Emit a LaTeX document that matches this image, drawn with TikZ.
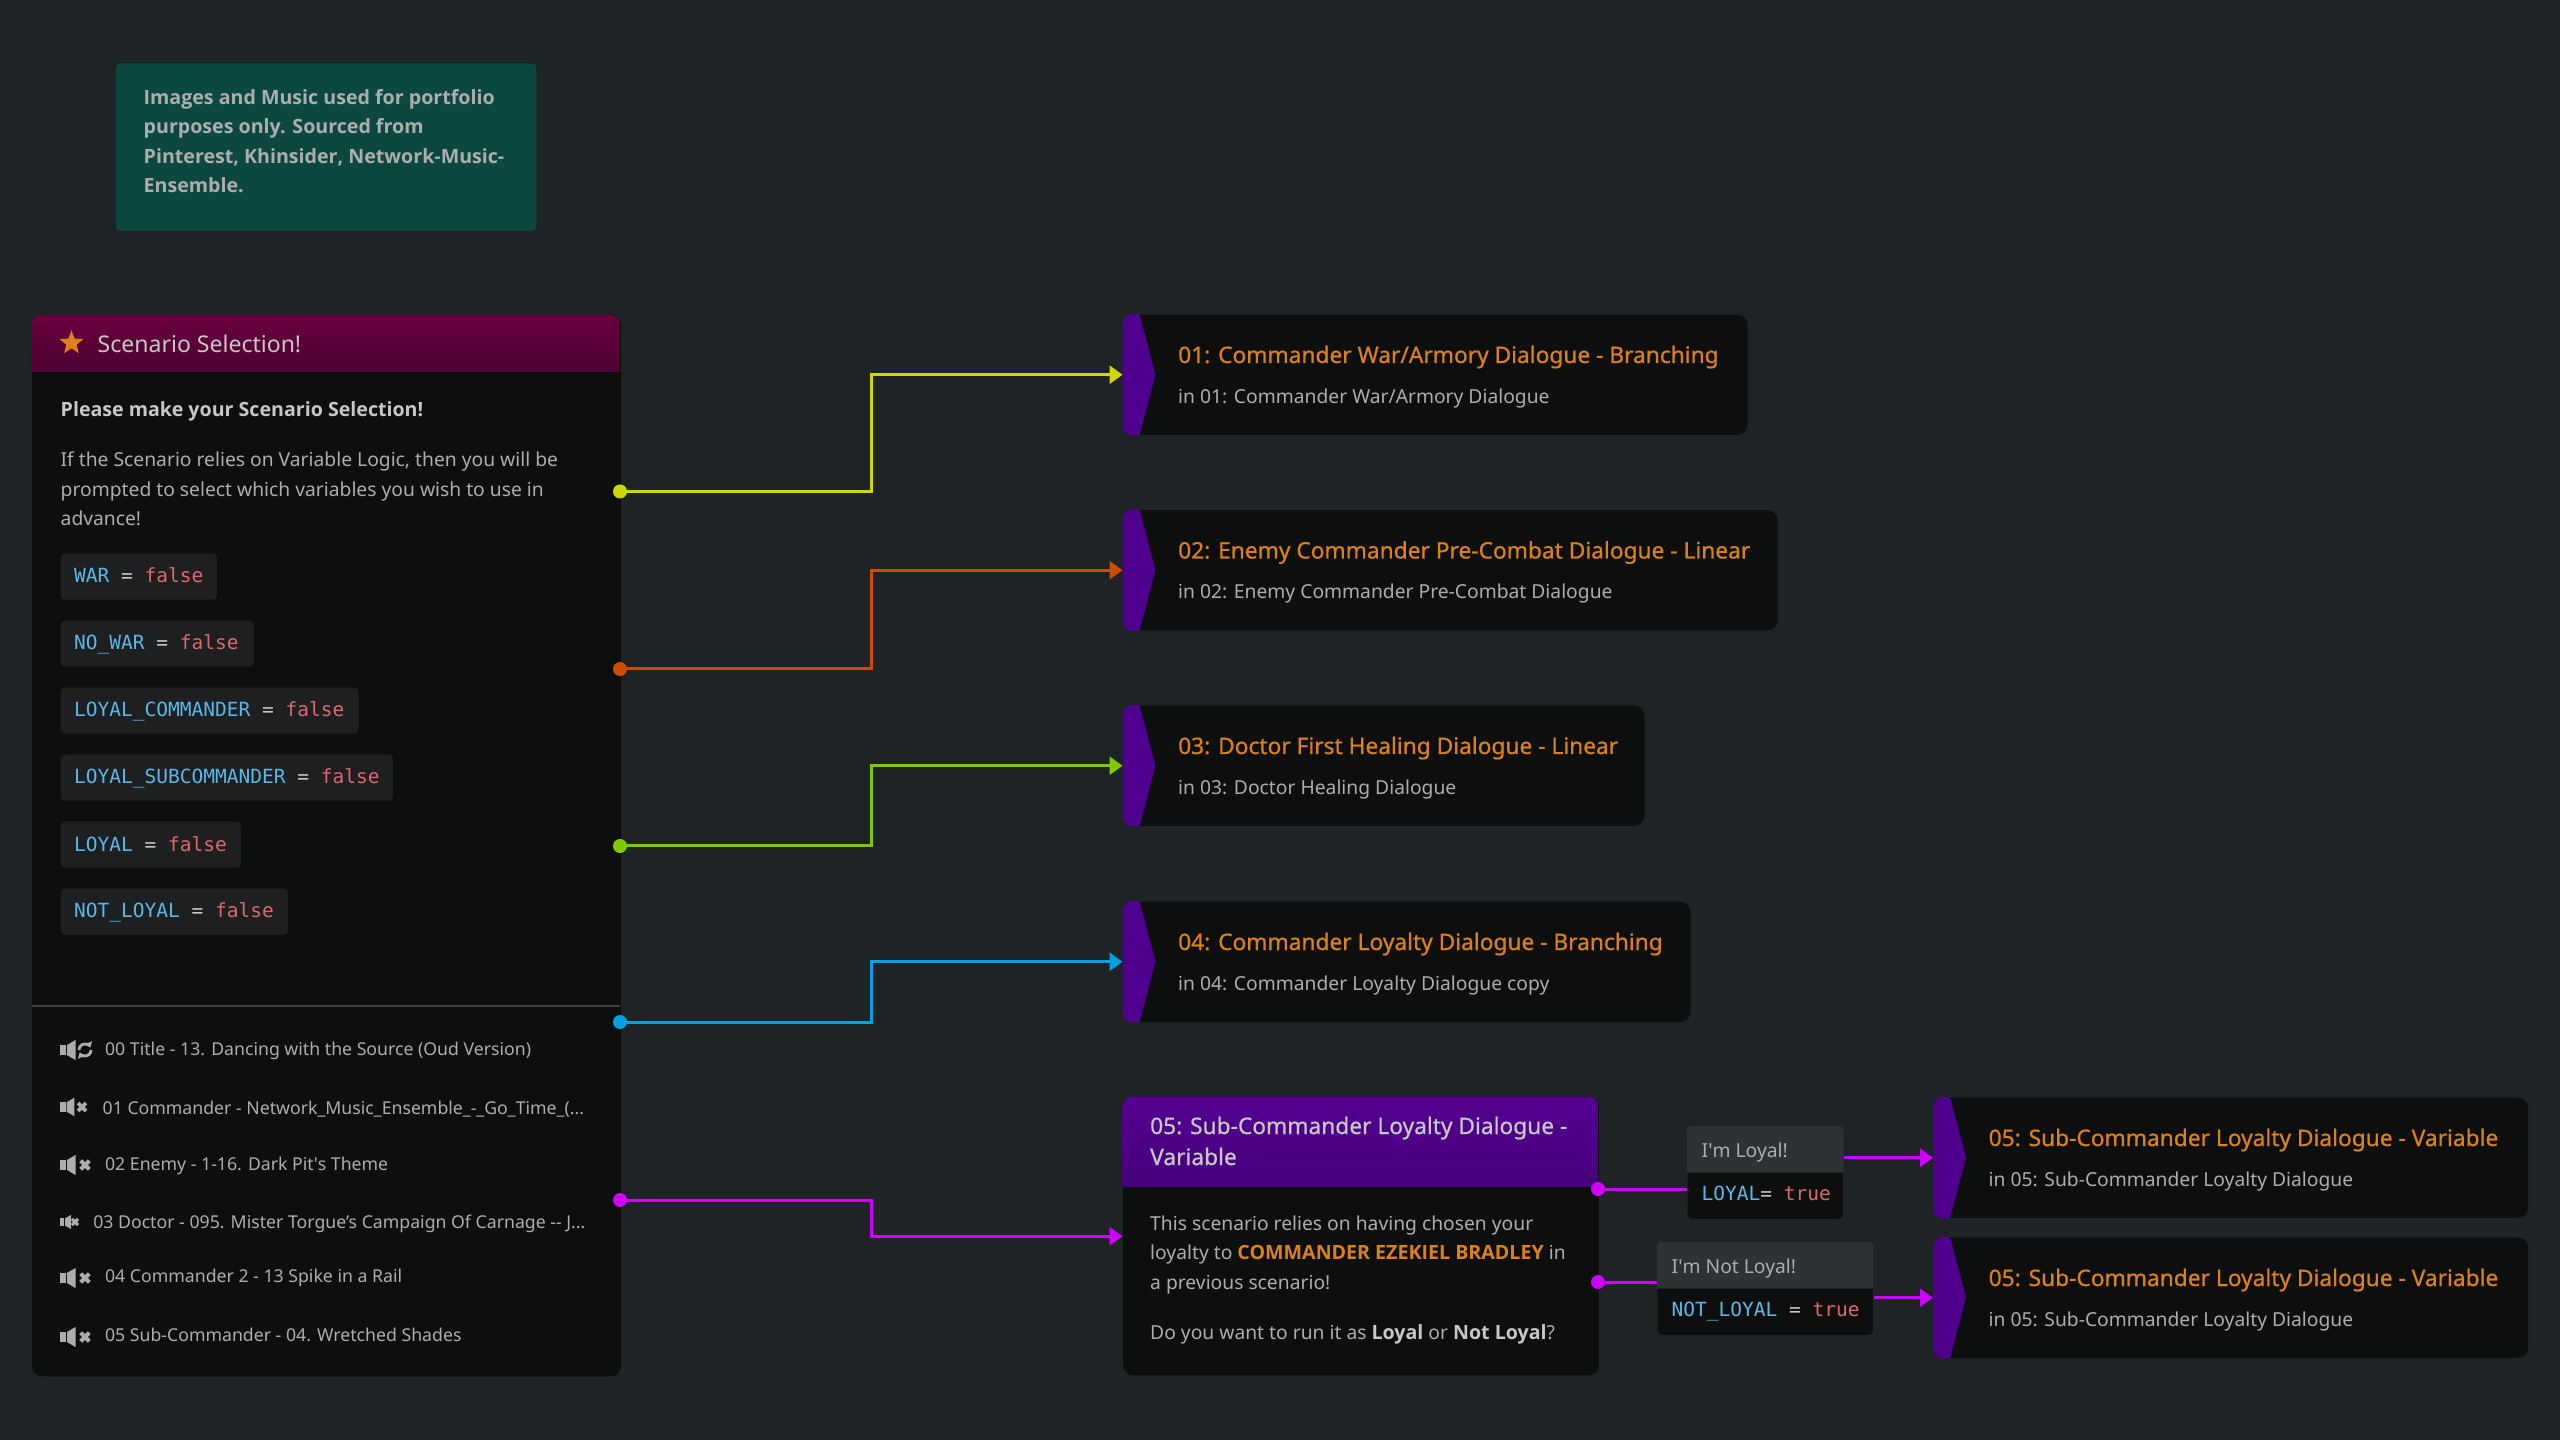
\documentclass[tikz,border=0pt]{standalone}
\usepackage{fontspec}
\setmainfont{Noto Sans}
\setmonofont{DejaVu Sans Mono}
\newfontfamily\semifont[FakeBold=0.7]{Noto Sans}
\newfontfamily\openface[Scale=1.018]{Open Sans}
\newcommand{\heavyface}{\openface\bfseries}
\usepackage{xcolor}
\usepackage{tikz}
\usetikzlibrary{arrows.meta, calc, positioning, shapes.geometric}

\definecolor{bgcol}{RGB}{30,35,37}
\definecolor{panelcol}{RGB}{13,15,15}
\definecolor{notecol}{RGB}{13,72,64}
\definecolor{tabcol}{RGB}{80,0,143}
\definecolor{orangecol}{RGB}{220,128,26}
\definecolor{textcol}{RGB}{172,174,172}
\definecolor{brightcol}{RGB}{198,200,198}
\definecolor{chipcol}{RGB}{29,31,32}
\definecolor{choicecol}{RGB}{46,50,53}
\definecolor{varcol}{RGB}{90,184,232}
\definecolor{falsecol}{RGB}{224,104,104}
\definecolor{wireyellow}{RGB}{208,214,0}
\definecolor{wireorange}{RGB}{204,76,0}
\definecolor{wiregreen}{RGB}{128,200,0}
\definecolor{wireblue}{RGB}{0,159,224}
\definecolor{wiremagenta}{RGB}{208,0,255}

\newcommand{\bodyfont}{\fontsize{5.48}{6}\selectfont}
\newcommand{\trackfont}{\fontsize{5.03}{6}\selectfont}
\newcommand{\headfont}{\fontsize{6.46}{7}\selectfont}
\newcommand{\codefont}{\fontsize{5.55}{6}\selectfont\ttfamily}

\tikzset{
    txt/.style={anchor=base west, inner sep=0pt, text=textcol, font=\bodyfont},
    cardtitle/.style={txt, text=orangecol, font=\headfont\semifont},
    headtitle/.style={txt, text=brightcol, font=\headfont\semifont},
    codetxt/.style={txt, text=brightcol, font=\codefont},
    chipbox/.style={anchor=north west, inner sep=0pt, fill=chipcol, rounded corners=0.04cm, minimum height=0.46cm},
    cardbox/.style={anchor=north west, inner sep=0pt, fill=panelcol, rounded corners=0.1cm, minimum height=1.2cm},
    portdot/.style={circle, inner sep=0pt, minimum size=0.14cm},
    wire/.style={line width=0.03cm, -{Triangle[length=0.13cm, width=0.18cm]}},
    stub/.style={line width=0.03cm},
}

\newcommand{\speakericon}[3]{
    \begin{scope}[shift={(#1,#2)}, scale=#3]
        \fill[textcol] (0,-5) rectangle (6,5);
        \fill[textcol] (7,-5) -- (15.5,-10) -- (15.5,10) -- (7,5) -- cycle;
    \end{scope}
}
\newcommand{\crossicon}[3]{
    \begin{scope}[shift={(#1,#2)}, scale=#3]
        \draw[textcol, line width=#3*0.04cm] (-4.3,-4.3) -- (4.3,4.3) (-4.3,4.3) -- (4.3,-4.3);
    \end{scope}
}

\begin{document}
\begin{tikzpicture}[x=0.01cm, y=-0.01cm]
\fill[bgcol] (0,0) rectangle (2560,1440);
\useasboundingbox (0,0) rectangle (2560,1440);
\coordinate (bend) at (871,0);

\node[anchor=north west, inner sep=0pt, fill=notecol, rounded corners=0.04cm, minimum width=4.2cm, minimum height=1.67cm] (note) at (115.5,63) {};
\foreach \ly/\ltxt in {104.5/Images and Music used for portfolio, 134/{purposes only. Sourced from}, 163.5/{Pinterest, Khinsider, Network-Music-}, 193/Ensemble.}{
    \node[txt, font=\bodyfont\heavyface, text=textcol] at (143,\ly) {\ltxt};
}

\node[anchor=north west, inner sep=0pt, fill=panelcol, rounded corners=0.1cm, minimum width=5.885cm, minimum height=10.6cm] (panel) at (31.5,315) {};
\shade[top color={rgb,255:red,104;green,0;blue,62}, bottom color={rgb,255:red,78;green,0;blue,50}, rounded corners=0.1cm]
    (31.5,372) -- (31.5,315) -- (620,315) [sharp corners] -- (620,372) -- cycle;
\node[star, star points=5, star point ratio=2.3, fill=orangecol, inner sep=0pt, minimum size=0.25cm] (starmark) at (71.5,343) {};
\node[txt, font=\fontsize{6.55}{7}\selectfont, text=brightcol] (paneltitle) at (97,352.5) {Scenario Selection!};
\node[txt, font=\bodyfont\heavyface, text=brightcol] (ask) at (60,416.5) {Please make your Scenario Selection!};
\node[txt] (introA) at (60,467) {If the Scenario relies on Variable Logic, then you will be};
\node[txt] (introB) at (60,496.5) {prompted to select which variables you wish to use in};
\node[txt] (introC) at (60,525.5) {advance!};

\foreach \cy/\cw/\cname in {553/1.56/WAR, 620/1.93/NO\_WAR, 687/2.976/LOYAL\_COMMANDER, 754/3.32/LOYAL\_SUBCOMMANDER, 821/1.80/LOYAL, 888/2.27/NOT\_LOYAL}{
    \node[chipbox, minimum width=\cw cm] at (60,\cy) {};
    \node[codetxt] at (73.5,\cy+30) {\textcolor{varcol}{\cname} = \textcolor{falsecol}{false}};
}

\draw[white!20!panelcol, line width=0.02cm] (31.5,1006) -- (620,1006);

\foreach \iy/\isc/\ix/\tx/\ty/\track in {
    1107/0.93/82/102/1114/{01 Commander - Network\_Music\_Ensemble\_-\_Go\_Time\_(...},
    1165/1/85/104.4/1170/{02 Enemy - 1-16. Dark Pit\textquotesingle{}s Theme},
    1222/0.72/75/92.6/1228/{03 Doctor - 095. Mister Torgue’s Campaign Of Carnage -{}- J...},
    1278/1/85/104.4/1282.5/{04 Commander 2 - 13 Spike in a Rail},
    1337/1/85/104.4/1341.5/{05 Sub-Commander - 04. Wretched Shades}}{
    \speakericon{60}{\iy}{\isc}
    \crossicon{\ix}{\iy}{\isc}
    \node[txt, font=\trackfont] at (\tx,\ty) {\track};
}
\speakericon{60}{1050}{1}
\draw[textcol, line width=0.028cm, -{Triangle[length=0.05cm, width=0.08cm]}] (79,1050) arc (180:335:6);
\draw[textcol, line width=0.028cm, -{Triangle[length=0.05cm, width=0.08cm]}] (91,1050) arc (0:155:6);
\node[txt, font=\trackfont] (trackzero) at (104.4,1055.5) {00 Title - 13. Dancing with the Source (Oud Version)};

\foreach \cid/\cx/\ctop/\cw/\ctitle/\csub in {
    A/1122.5/314/6.24/{01: Commander War/Armory Dialogue - Branching}/{in 01: Commander War/Armory Dialogue},
    B/1122.5/509.5/6.54/{02: Enemy Commander Pre-Combat Dialogue - Linear}/{in 02: Enemy Commander Pre-Combat Dialogue},
    C/1122.5/705/5.21/{03: Doctor First Healing Dialogue - Linear}/{in 03: Doctor Healing Dialogue},
    D/1122.5/901/5.67/{04: Commander Loyalty Dialogue - Branching}/{in 04: Commander Loyalty Dialogue copy},
    E/1933/1097/5.94/{05: Sub-Commander Loyalty Dialogue - Variable}/{in 05: Sub-Commander Loyalty Dialogue},
    F/1933/1237/5.94/{05: Sub-Commander Loyalty Dialogue - Variable}/{in 05: Sub-Commander Loyalty Dialogue}}{
    \node[cardbox, minimum width=\cw cm] (card\cid) at (\cx,\ctop) {};
    \fill[tabcol] ($(card\cid.north west)+(17,0)$) -- ($(card\cid.west)+(33,0)$) -- ($(card\cid.south west)+(17,0)$)
        [rounded corners=0.1cm] -- (card\cid.south west) -- (card\cid.north west) [sharp corners] -- cycle;
    \node[cardtitle] at ($(card\cid.north west)+(55,49)$) {\ctitle};
    \node[txt] at ($(card\cid.north west)+(55,89.5)$) {\csub};
}

\node[anchor=north west, inner sep=0pt, fill=panelcol, rounded corners=0.1cm, minimum width=4.755cm, minimum height=2.78cm] (dial) at (1122.5,1096.5) {};
\shade[top color={rgb,255:red,84;green,0;blue,146}, bottom color={rgb,255:red,70;green,0;blue,122}, rounded corners=0.1cm]
    (1122.5,1187) -- (1122.5,1096.5) -- (1598,1096.5) [sharp corners] -- (1598,1187) -- cycle;
\node[headtitle] (dialtitleA) at (1149.5,1134) {05: Sub-Commander Loyalty Dialogue -};
\node[headtitle] (dialtitleB) at (1149.5,1165) {Variable};
\node[txt] (dialA) at (1149.5,1230.5) {This scenario relies on having chosen your};
\node[txt] (dialB) at (1149.5,1259.5) {loyalty to \textcolor{orangecol}{\heavyface COMMANDER EZEKIEL BRADLEY} in};
\node[txt] (dialC) at (1149.5,1289.5) {a previous scenario!};
\node[txt] (dialD) at (1149.5,1339.5) {Do you want to run it as \textcolor{brightcol}{\heavyface Loyal} or \textcolor{brightcol}{\heavyface Not Loyal}?};

\foreach \bid/\bx/\btop/\bw/\btxt/\bvar/\beq in {
    L/1687/1126/1.55/{I\textquotesingle{}m Loyal!}/{LOYAL}/{= },
    N/1657/1242/2.15/{I\textquotesingle{}m Not Loyal!}/{NOT\_LOYAL}/{ = }}{
    \node[anchor=north west, inner sep=0pt, fill=panelcol, rounded corners=0.04cm, minimum width=\bw cm, minimum height=0.92cm] (choice\bid) at (\bx,\btop) {};
    \fill[choicecol, rounded corners=0.04cm] (choice\bid.west) -- (choice\bid.north west) -- (choice\bid.north east) [sharp corners] -- (choice\bid.east) -- cycle;
    \node[txt] at ($(choice\bid.north west)+(14,31)$) {\btxt};
    \node[codetxt] at ($(choice\bid.north west)+(14,74)$) {\textcolor{varcol}{\bvar}\beq\textcolor{falsecol}{true}};
}

\foreach \pid/\py/\pcol/\ptarget in {1/491.5/wireyellow/cardA, 2/669/wireorange/cardB, 3/846/wiregreen/cardC, 4/1022/wireblue/cardD, 5/1200/wiremagenta/dial}{
    \node[portdot, fill=\pcol] (port\pid) at (620,\py) {};
    \draw[wire, \pcol] (port\pid.center) -- (bend |- port\pid.center) -- (bend |- \ptarget.west) -- (\ptarget.west);
}

\node[portdot, fill=wiremagenta] (portL) at (1598,1189) {};
\node[portdot, fill=wiremagenta] (portN) at (1598,1282) {};
\draw[stub, wiremagenta] (portL.center) -- (choiceL.west |- portL.center);
\draw[stub, wiremagenta] (portN.center) -- (choiceN.west |- portN.center);
\draw[wire, wiremagenta] (choiceL.east |- cardE.west) -- (cardE.west);
\draw[wire, wiremagenta] (choiceN.east |- cardF.west) -- (cardF.west);
\end{tikzpicture}
\end{document}
